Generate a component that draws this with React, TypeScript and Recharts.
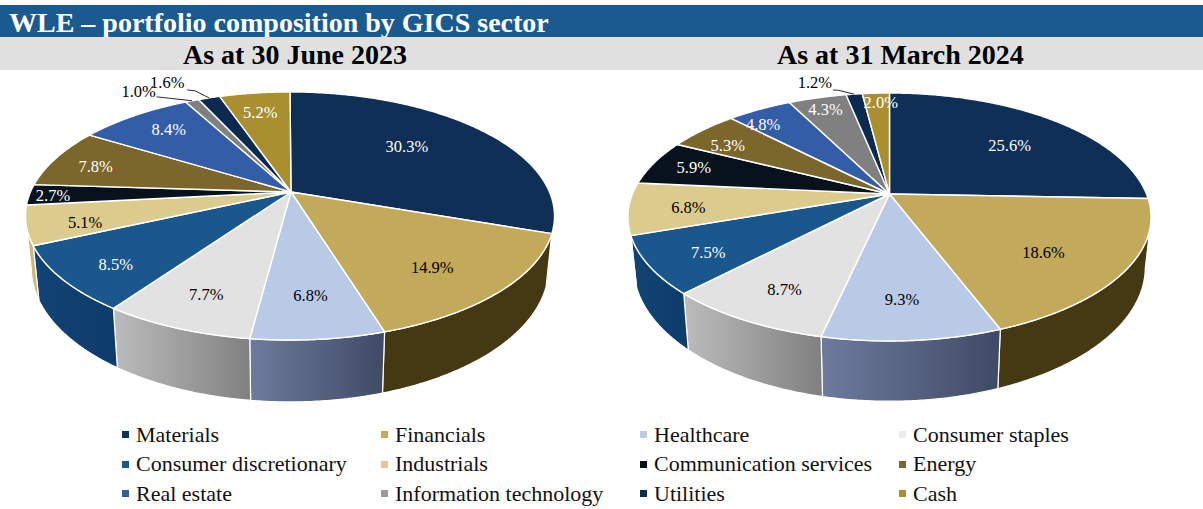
import React from "react";
import { PieChart, Pie, Legend } from "recharts";

const sectors = ["Materials", "Financials", "Healthcare", "Consumer staples", "Consumer discretionary", "Industrials", "Communication services", "Energy", "Real estate", "Information technology", "Utilities", "Cash"];
const values2023 = [30.3, 14.9, 6.8, 7.7, 8.5, 5.1, 2.7, 7.8, 8.4, 1.0, 1.6, 5.2];
const values2024 = [25.6, 18.6, 9.3, 8.7, 7.5, 6.8, 5.9, 5.3, 4.8, 4.3, 1.2, 2.0];
const topColors = ["#102f57", "#c3a95a", "#b9cae6", "#e2e2e2", "#1a578d", "#dbcb8c", "#07121d", "#7b662b", "#345da8", "#808080", "#0c2a50", "#a98f30"];
const legendColors = ["#10305a", "#c3a95a", "#b9cae6", "#ececec", "#1a578d", "#dccd8d", "#07121d", "#7b662b", "#345da8", "#9a9a9a", "#0c2a50", "#a98f30"];
const wallLight = ["#0e2a4c", "#443913", "#6e7b9d", "#bcbcbc", "#124373", "#c9b880", "#07121d", "#5a4a1e", "#274683", "#666666", "#0a2140", "#7f6b24"];
const wallDark = ["#0e2a4c", "#443913", "#3f4a66", "#808080", "#0e3c6c", "#c9b880", "#07121d", "#5a4a1e", "#274683", "#666666", "#0a2140", "#7f6b24"];
const labelColors2023 = ["#fff", "#000", "#000", "#000", "#fff", "#000", "#fff", "#fff", "#fff", "#000", "#000", "#fff"];
const labelColors2024 = ["#fff", "#000", "#000", "#000", "#fff", "#000", "#fff", "#fff", "#fff", "#fff", "#000", "#fff"];

// Label placement: shift from the 60% radius point on the projected disc
const nudges2023 = [[-3, -7], [23, 19], [4, 23], [-22, 28], [-46, 23], [-51, 11], [-82, 2], [-52, -5], [-24, -14], [-90, -42], [-72, -49], [-8, -16]];
const nudges2024 = [[17, -2], [20, 14], [0, 25], [-24, 25], [-43, 17], [-46, 5], [-52, -7], [-45, -9], [-44, -16], [-18, -23], [-52, -48], [0, -27]];
// Leader lines: index -> start offset from the label, elbow offset from the label
const leaders2023: Record<number, number[]> = { 9: [18, 5, 18, 5], 10: [20, 7, 28, 8] };
const leaders2024: Record<number, number[]> = { 10: [18, 8, 23, 8] };

type View = { cx: number; apexX: number; cy: number; rx: number; ry: number; k: number; depth: number };
const view2023: View = { cx: 290, apexX: 291, cy: 192, rx: 259.5, ry: 119.4, k: 0.1936, depth: 50 };
const view2024: View = { cx: 889.5, apexX: 889.5, cy: 194, rx: 257, ry: 119.7, k: 0.1855, depth: 48.5 };

const project = (angle: number, f: number, w: View) => {
  const a = (angle * Math.PI) / 180;
  const u = f * Math.cos(a);
  const v = -f * Math.sin(a);
  const s = 1 / (1 - w.k * v);
  return { x: w.cx + w.rx * u * s, y: w.cy + w.ry * v * s, v };
};
const lower = (p: { x: number; y: number }, w: View) => ({
  x: w.cx + (p.x - w.cx) * 0.978,
  y: p.y + w.depth + (p.y - w.cy) * 0.08,
});
const arcAngles = (start: number, end: number) => {
  const n = Math.max(2, Math.ceil(Math.abs(end - start) / 0.5));
  return Array.from({ length: n + 1 }, (_, i) => start + ((end - start) * i) / n);
};
const toPath = (pts: { x: number; y: number }[]) =>
  pts.map((p, i) => `${i ? "L" : "M"}${p.x.toFixed(2)} ${p.y.toFixed(2)}`).join("") + "Z";

const topShape = (w: View) => (props: any) => {
  const rim = arcAngles(props.startAngle, props.endAngle).map((a) => project(a, 1, w));
  return <path d={toPath([{ x: w.apexX, y: w.cy }, ...rim])} fill={props.fill} stroke="#fff" strokeWidth={1.4} strokeLinejoin="round" />;
};

const wallShape = (w: View, tag: string) => (props: any) => {
  const rim = arcAngles(props.startAngle, props.endAngle)
    .map((a) => project(a, 1, w))
    .filter((p) => p.v >= w.k);
  if (rim.length < 2) return <g />;
  const base = rim.map((p) => lower(p, w)).reverse();
  const idx = sectors.indexOf(props.name);
  const id = `wall-${tag}-${idx}`;
  return (
    <g>
      <defs>
        <linearGradient id={id} x1="0" y1="0" x2="1" y2="0">
          <stop offset="0" stopColor={wallLight[idx]} />
          <stop offset="1" stopColor={wallDark[idx]} />
        </linearGradient>
      </defs>
      <path d={toPath([...rim, ...base])} fill={`url(#${id})`} stroke="#fff" strokeWidth={1.2} strokeLinejoin="round" />
    </g>
  );
};

const labelRenderer = (w: View, nudges: number[][], colors: string[], leaders: Record<number, number[]>) => (props: any) => {
  const i = props.index;
  const base = project(props.midAngle, 0.6, w);
  const x = base.x + nudges[i][0] + (w.apexX - w.cx);
  const y = base.y + nudges[i][1];
  const rim = project(props.midAngle, 1, w);
  const l = leaders[i];
  return (
    <g key={i}>
      {l && (
        <polyline
          points={`${x + l[0]},${y + l[1]} ${x + l[2]},${y + l[3]} ${rim.x},${rim.y}`}
          fill="none"
          stroke="#111"
          strokeWidth={0.9}
        />
      )}
      <text x={x} y={y} textAnchor="middle" dominantBaseline="central" fontFamily="'Liberation Serif', serif" fontSize={16.5} fill={colors[i]}>
        {`${props.value.toFixed(1)}%`}
      </text>
    </g>
  );
};

const build = (values: number[]) => sectors.map((name, i) => ({ name, value: values[i], fill: topColors[i] }));
const data2023 = build(values2023);
const data2024 = build(values2024);

const serif = "'Liberation Serif', serif";

const LegendGrid = () => (
  <div style={{ display: "grid", gridTemplateColumns: "repeat(4, 259px)", gridAutoRows: "29.5px", paddingLeft: 122, fontFamily: serif, fontSize: 22, color: "#111" }}>
    {sectors.map((s, i) => (
      <div key={s} style={{ display: "flex", alignItems: "center", whiteSpace: "nowrap" }}>
        <span style={{ width: 7, height: 7, background: legendColors[i], marginRight: 7, flex: "none" }} />
        {s}
      </div>
    ))}
  </div>
);

const common = { dataKey: "value", nameKey: "name", startAngle: 90, endAngle: -270, innerRadius: 0, isAnimationActive: false, stroke: "none", legendType: "none" as const };

export default function App() {
  return (
    <div style={{ position: "absolute", left: 0, top: 0, width: 1203, height: 509, background: "#fff", overflow: "hidden" }}>
      <div style={{ position: "absolute", left: 0, top: 5, width: 1203, height: 32, background: "#1a5a8e", color: "#fff", fontFamily: serif, fontWeight: 700, fontSize: 28, lineHeight: "35px", paddingLeft: 9, boxSizing: "border-box" }}>
        WLE – portfolio composition by GICS sector
      </div>
      <div style={{ position: "absolute", left: 0, top: 37, width: 1203, height: 33, background: "#e0e0e0", fontFamily: serif, fontWeight: 700, fontSize: 28, lineHeight: "35px", color: "#000" }}>
        <span style={{ position: "absolute", left: 183, whiteSpace: "nowrap" }}>As at 30 June 2023</span>
        <span style={{ position: "absolute", left: 777, whiteSpace: "nowrap" }}>As at 31 March 2024</span>
      </div>
      <div style={{ position: "absolute", left: 0, top: 0 }}>
        <PieChart width={1203} height={509} margin={{ top: 0, right: 0, bottom: 0, left: 0 }}>
          <Pie {...common} data={data2023} cx={view2023.cx} cy={view2023.cy} outerRadius={view2023.rx} shape={wallShape(view2023, "a")} label={false} labelLine={false} />
          <Pie {...common} data={data2024} cx={view2024.cx} cy={view2024.cy} outerRadius={view2024.rx} shape={wallShape(view2024, "b")} label={false} labelLine={false} />
          <Pie {...common} data={data2023} cx={view2023.cx} cy={view2023.cy} outerRadius={view2023.rx} shape={topShape(view2023)} label={labelRenderer(view2023, nudges2023, labelColors2023, leaders2023)} labelLine={false} />
          <Pie {...common} data={data2024} cx={view2024.cx} cy={view2024.cy} outerRadius={view2024.rx} shape={topShape(view2024)} label={labelRenderer(view2024, nudges2024, labelColors2024, leaders2024)} labelLine={false} />
          <Legend content={() => <LegendGrid />} wrapperStyle={{ left: 0, top: 420, width: 1203 }} />
        </PieChart>
      </div>
    </div>
  );
}
